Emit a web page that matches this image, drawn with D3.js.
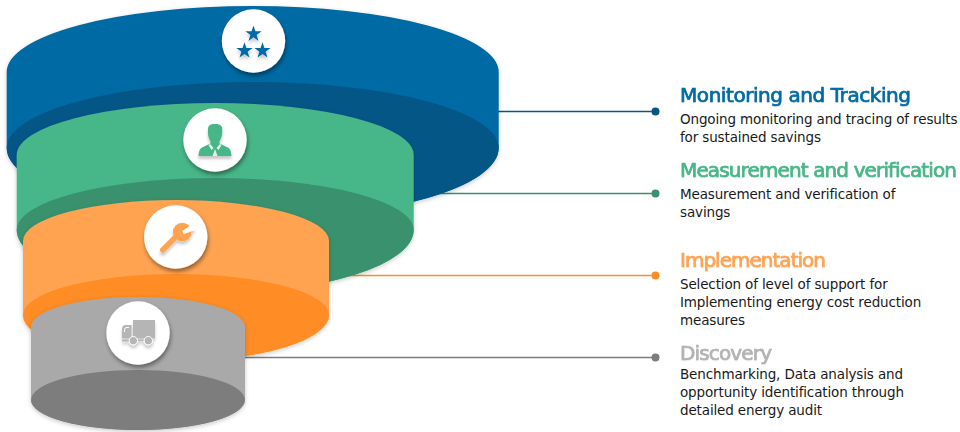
<!DOCTYPE html>
<html>
<head>
<meta charset="utf-8">
<script src="https://cdn.jsdelivr.net/npm/d3@7"></script>
<style>
  html, body { margin: 0; padding: 0; background: #fff; }
  svg { display: block; }
  text { font-family: "DejaVu Sans", sans-serif; }
  .title { font-size: 20px; font-weight: 400; paint-order: stroke; stroke-width: .7px; filter: url(#textGlow); }
  .body { font-size: 13.5px; fill: #1a1a1a; letter-spacing: -0.14px; }
</style>
</head>
<body>
<div id="chart"></div>
<script>
// Funnel stages, widest tier first
const stages = ["Monitoring and Tracking", "Measurement and verification", "Implementation", "Discovery"];
const descriptions = [
  ["Ongoing monitoring and tracing of results", "for sustained savings"],
  ["Measurement and verification of", "savings"],
  ["Selection of level of support for", "Implementing energy cost reduction", "measures"],
  ["Benchmarking, Data analysis and", "opportunity identification through", "detailed energy audit"]
];
const faceColors = ["#026aa4", "#47b688", "#ffa351", "#a9a9a9"];
const baseColors = ["#045687", "#3a916e", "#ff8c24", "#7d7d7d"];
const titleColors = ["#026aa4", "#47b688", "#ffa351", "#b3b3b3"];

const width = 960, height = 432;

// Tier geometry: ellipse centre x, radii, top and bottom ellipse centre y.
// The base ellipse bulges further below its centre than above it.
const cx = d3.scaleOrdinal(stages, [252.7, 215.2, 176, 138]);
const rx = d3.scaleOrdinal(stages, [246, 198.5, 153, 107]);
const ry = d3.scaleOrdinal(stages, [66, 52, 41, 30]);
const lowerRy = d3.scaleOrdinal(stages, [71, 63, 46, 30]);
const topY = d3.scaleOrdinal(stages, [72, 155, 241, 327]);
const baseY = d3.scaleOrdinal(stages, [148, 230, 315, 400]);

// Leader lines and text column
const leaderY = d3.scaleOrdinal(stages, [111.5, 193.5, 275.5, 357.5]);
const leaderX0 = d3.scaleOrdinal(stages, [480, 420, 320, 240]);
const dotX = 655.5, textX = 680;
const titleY = d3.scaleOrdinal(stages, [102, 177, 267, 360]);
const titleLength = d3.scaleOrdinal(stages, [231, 277, 146, 92]);
const bodyY = d3.scaleOrdinal(stages, [123.5, 198.5, 288.5, 378.5]);
const lineStep = 18.4;

// Badge positions
const badgeX = d3.scaleOrdinal(stages, [253.5, 215, 175.7, 138]);
const badgeY = d3.scaleOrdinal(stages, [41, 140, 237, 333]);
const badgeR = 31.7;

const svg = d3.select("#chart").append("svg").attr("width", width).attr("height", height);
const defs = svg.append("defs");

function shadow(id, dx, dy, blur, opacity) {
  const f = defs.append("filter").attr("id", id)
    .attr("x", "-30%").attr("y", "-30%").attr("width", "160%").attr("height", "170%");
  f.append("feDropShadow").attr("dx", dx).attr("dy", dy)
    .attr("stdDeviation", blur).attr("flood-color", "#000").attr("flood-opacity", opacity);
}
shadow("tierShadow", 0, 1.5, 2, 0.22);
shadow("badgeShadow", 1, 3, 2.2, 0.42);
shadow("iconShadow", 0, 3, 1.4, 0.22);
shadow("textGlow", 0, 0.5, 0.6, 0.12);

// Leader lines sit behind the tiers
const leaders = svg.append("g").selectAll("g").data(stages).join("g");
leaders.append("line")
  .attr("x1", d => leaderX0(d)).attr("x2", dotX)
  .attr("y1", d => leaderY(d)).attr("y2", d => leaderY(d))
  .attr("stroke", (d, i) => baseColors[i]).attr("stroke-width", 1.4);
leaders.append("circle")
  .attr("cx", dotX).attr("cy", d => leaderY(d)).attr("r", 4)
  .attr("fill", (d, i) => baseColors[i]);

// Cylinder outline: upper half of the top ellipse, straight sides, lower half of the base ellipse
function tierPath(d) {
  const x = cx(d), a = rx(d);
  return `M${x - a},${topY(d)} A${a},${ry(d)} 0 0 1 ${x + a},${topY(d)} L${x + a},${baseY(d)} A${a},${lowerRy(d)} 0 0 1 ${x - a},${baseY(d)} Z`;
}
// Visible underside of the tier
function basePath(d) {
  const x = cx(d), a = rx(d), y = baseY(d);
  return `M${x - a},${y} A${a},${ry(d)} 0 0 1 ${x + a},${y} A${a},${lowerRy(d)} 0 0 1 ${x - a},${y} Z`;
}

const tiers = svg.append("g").selectAll("g").data(stages).join("g");
tiers.append("path").attr("d", tierPath)
  .attr("fill", (d, i) => faceColors[i]).attr("filter", "url(#tierShadow)");
tiers.append("path").attr("d", basePath)
  .attr("fill", (d, i) => baseColors[i]);
tiers.append("circle")
  .attr("cx", badgeX).attr("cy", badgeY).attr("r", badgeR)
  .attr("fill", "#fff").attr("filter", "url(#badgeShadow)");

const icons = tiers.append("g")
  .attr("transform", d => `translate(${badgeX(d)},${badgeY(d)})`)
  .attr("fill", (d, i) => i === 3 ? "#b5b5b5" : faceColors[i])
  .attr("filter", "url(#iconShadow)");

// Three stars
const star = d3.symbol().type(d3.symbolStar).size(82)();
icons.filter((d, i) => i === 0).selectAll("path")
  .data([[0, -7], [-9, 9.7], [9, 9.7]]).join("path")
  .attr("d", star).attr("transform", d => `translate(${d[0]},${d[1]})`);

// Person with collar and tie
const person = icons.filter((d, i) => i === 1);
person.append("path").attr("d",
  "M-7,-11 C-7,-15.5 -3,-16.2 0,-16 C4,-16.2 7.5,-15 7.3,-10 C7.5,-6 6.5,-1.5 4.5,1.5 L4.5,3.5 L12,7 C15,8 16.3,11 16.5,16 L-16.5,16 C-16.3,11 -15,8 -12,7 L-4.5,3.5 L-4.5,1.5 C-6.5,-1.5 -7.5,-6 -7,-11 Z");
person.append("path").attr("fill", "#fff").attr("opacity", 0.85)
  .attr("d", "M-5,4 L-1.5,8 L-3.5,10 L-6.5,5 Z M5,4 L1.5,8 L3.5,10 L6.5,5 Z M0,9 L2.5,16 L-2.5,16 Z");

// Spanner
const spanner = icons.filter((d, i) => i === 2);
spanner.append("line").attr("x1", -13).attr("y1", 13).attr("x2", 3).attr("y2", -3)
  .attr("stroke", d => faceColors[2]).attr("stroke-width", 5.4).attr("stroke-linecap", "round");
spanner.append("circle").attr("cx", 6.5).attr("cy", -5).attr("r", 9.3);
spanner.append("path").attr("fill", "#fff")
  .attr("d", "M6.5,-6 L17,-13 L19,-7 L8,-2.8 Z");

// Delivery truck
const truck = icons.filter((d, i) => i === 3);
truck.append("rect").attr("x", -5).attr("y", -13).attr("width", 22).attr("height", 18.5);
truck.append("path").attr("d", "M-16,5 L-16,-4 Q-16,-8 -12,-8 L-6.5,-8 L-6.5,5 Z");
truck.append("path").attr("d", "M-13.5,-1 L-13.5,-3.5 Q-13.5,-5.5 -11,-5.5 L-9,-5.5")
  .attr("fill", "none").attr("stroke", "#fff").attr("stroke-width", 1);
truck.append("rect").attr("x", -16).attr("y", 6.5).attr("width", 7).attr("height", 2);
truck.append("rect").attr("x", 0).attr("y", 6.5).attr("width", 6).attr("height", 1.6);
truck.selectAll("circle").data([-4.7, 10.3]).join("circle")
  .attr("cx", d => d).attr("cy", 7.7).attr("r", 4.2)
  .attr("stroke", "#fff").attr("stroke-width", 1);

// Text column
const labels = svg.append("g").selectAll("g").data(stages).join("g");
labels.append("text").attr("class", "title")
  .attr("x", textX).attr("y", d => titleY(d))
  .attr("textLength", d => titleLength(d)).attr("lengthAdjust", "spacing")
  .attr("fill", (d, i) => titleColors[i])
  .attr("stroke", (d, i) => titleColors[i])
  .text(d => d);
labels.each(function (d, i) {
  d3.select(this).selectAll("text.body").data(descriptions[i]).join("text")
    .attr("class", "body")
    .attr("x", textX)
    .attr("y", (t, k) => bodyY(d) + k * lineStep)
    .text(t => t);
});
</script>
</body>
</html>
